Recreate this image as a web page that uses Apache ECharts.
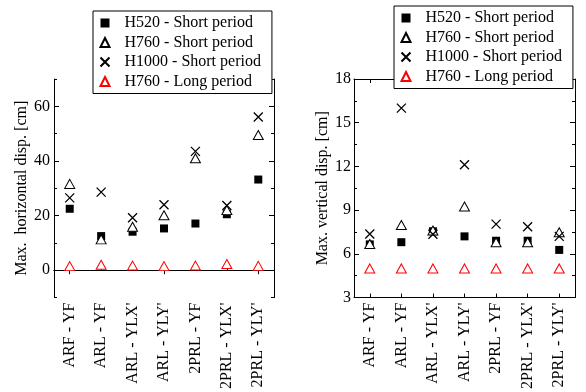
<!DOCTYPE html>
<html>
<head>
<meta charset="utf-8">
<script src="https://cdn.jsdelivr.net/npm/echarts@6/dist/echarts.min.js"></script>
<style>
  html, body { margin: 0; padding: 0; background: #fff; }
  #chart { width: 586px; height: 392px; }
</style>
</head>
<body>
<div id="chart"></div>
<script>
// categories and series values
const categories = ["ARF - YF", "ARL - YF", "ARL - YLX'", "ARL - YLY'", "2PRL - YF", "2PRL - YLX'", "2PRL - YLY'"];
const seriesNames = ['H520 - Short period', 'H760 - Short period', 'H1000 - Short period', 'H760 - Long period'];

// horizontal disp. [cm]
const horizH520 = [22.5, 12.5, 14.1, 15.3, 17.1, 20.5, 33.2];
const horizH760S = [31.6, 11.3, 15.9, 20.1, 41.0, 22.0, 49.5];
const horizH1000 = [26.5, 28.6, 19.2, 24.0, 43.5, 23.7, 56.1];
const horizH760L = [1.5, 2.0, 1.7, 1.5, 1.7, 2.3, 1.6];

// vertical disp. [cm]
const vertH520 = [6.65, 6.8, 7.55, 7.2, 6.9, 6.9, 6.27];
const vertH760S = [6.68, 7.98, 7.6, 9.25, 6.8, 6.8, 7.48];
const vertH1000 = [7.36, 16.0, 7.35, 12.11, 8.04, 7.86, 7.2];
const vertH760L = [5.0, 5.0, 5.0, 5.0, 5.0, 5.0, 5.0];

// tick labels
const horizTicks = [0, 20, 40, 60];

const FONT = 'Liberation Serif';
const line = { show: true, lineStyle: { color: '#000', width: 1 } };

const chart = echarts.init(document.getElementById('chart'));

function catAxis(grid, pos, labels) {
  return {
    type: 'category', gridIndex: grid, position: pos, data: categories,
    boundaryGap: true,
    axisLine: line,
    axisTick: { show: true, inside: true, alignWithLabel: true, length: 4, lineStyle: { color: '#000' } },
    axisLabel: labels ? { show: true, rotate: 90, margin: 5, interval: 0, color: '#000', fontFamily: FONT, fontSize: 16 } : { show: false },
    splitLine: { show: false }
  };
}

const crossX = 'path://M0,0L10,10M10,0L0,10';

function scatter(name, data, xi, yi, sym) {
  return Object.assign({ name, type: 'scatter', data, xAxisIndex: xi, yAxisIndex: yi, animation: false }, sym);
}
const symH520 = { symbol: 'rect', symbolSize: 8, itemStyle: { color: '#000', opacity: 1 } };
const symH760S = { symbol: 'triangle', symbolSize: [10, 9], itemStyle: { color: '#fff', borderColor: '#000', borderWidth: 1, opacity: 1 } };
const symH1000 = { symbol: crossX, symbolSize: 9, itemStyle: { color: 'none', borderColor: '#000', borderWidth: 1.3, opacity: 1 } };
const symH760L = { symbol: 'triangle', symbolSize: [10, 9], itemStyle: { color: '#fff', borderColor: '#f00', borderWidth: 1, opacity: 1 } };

function legend(left, top) {
  return {
    data: seriesNames, orient: 'vertical', left, top,
    backgroundColor: '#fff', borderColor: '#000', borderWidth: 1,
    padding: [4, 11, 4, 5], itemGap: 3.5, itemWidth: 9, itemHeight: 9,
    selectedMode: false,
    textStyle: { fontFamily: FONT, fontSize: 16, color: '#000', lineHeight: 16, padding: [0, 0, 0, 10] }
  };
}

const nameStyle = { fontFamily: FONT, fontSize: 16, color: '#000' };

chart.setOption({
  animation: false,
  backgroundColor: '#fff',
  grid: [
    { left: 54, top: 79, width: 220, height: 219 },
    { left: 354, top: 79, width: 221, height: 220 }
  ],
  legend: [legend(93, 11), legend(394, 6)],
  xAxis: [
    catAxis(0, 'bottom', true),
    catAxis(0, 'top', false),
    catAxis(1, 'bottom', true),
    catAxis(1, 'top', false)
  ],
  yAxis: [
    { type: 'value', gridIndex: 0, position: 'left', min: -10, max: 70,
      name: 'Max.  horizontal disp. [cm]', nameLocation: 'middle', nameGap: 18, nameTextStyle: nameStyle,
      axisLine: line,
      axisTick: { show: true, inside: true, length: 5, customValues: horizTicks, lineStyle: { color: '#000' } },
      axisLabel: { show: true, customValues: horizTicks, margin: 4, color: '#000', fontFamily: FONT, fontSize: 16 },
      splitLine: { show: false } },
    { type: 'value', gridIndex: 0, position: 'left', min: -10, max: 70, interval: 10,
      axisLine: { show: false }, axisLabel: { show: false }, splitLine: { show: false },
      axisTick: { show: true, inside: true, length: 3, lineStyle: { color: '#000' } } },
    { type: 'value', gridIndex: 0, position: 'right', min: -10, max: 70,
      axisLine: line, axisLabel: { show: false }, splitLine: { show: false },
      axisTick: { show: true, inside: true, length: 5, customValues: horizTicks, lineStyle: { color: '#000' } } },
    { type: 'value', gridIndex: 0, position: 'right', min: -10, max: 70, interval: 10,
      axisLine: { show: false }, axisLabel: { show: false }, splitLine: { show: false },
      axisTick: { show: true, inside: true, length: 3, lineStyle: { color: '#000' } } },
    { type: 'value', gridIndex: 1, position: 'left', min: 3, max: 18, interval: 3,
      name: 'Max. vertical disp. [cm]', nameLocation: 'middle', nameGap: 19, nameTextStyle: nameStyle,
      axisLine: line,
      axisTick: { show: true, inside: true, length: 5, lineStyle: { color: '#000' } },
      minorTick: { show: true, splitNumber: 2, length: 3, lineStyle: { color: '#000' } },
      axisLabel: { show: true, margin: 3, color: '#000', fontFamily: FONT, fontSize: 16 },
      splitLine: { show: false } },
    { type: 'value', gridIndex: 1, position: 'right', min: 3, max: 18, interval: 3,
      axisLine: line, axisLabel: { show: false }, splitLine: { show: false },
      axisTick: { show: true, inside: true, length: 5, lineStyle: { color: '#000' } },
      minorTick: { show: true, splitNumber: 2, length: 3, lineStyle: { color: '#000' } } }
  ],
  series: [
    scatter(seriesNames[0], horizH520, 0, 0, symH520),
    scatter(seriesNames[1], horizH760S, 0, 0, symH760S),
    scatter(seriesNames[2], horizH1000, 0, 0, symH1000),
    scatter(seriesNames[3], horizH760L, 0, 0, symH760L),
    scatter(seriesNames[0], vertH520, 2, 4, symH520),
    scatter(seriesNames[1], vertH760S, 2, 4, symH760S),
    scatter(seriesNames[2], vertH1000, 2, 4, symH1000),
    scatter(seriesNames[3], vertH760L, 2, 4, symH760L)
  ]
});
</script>
</body>
</html>
